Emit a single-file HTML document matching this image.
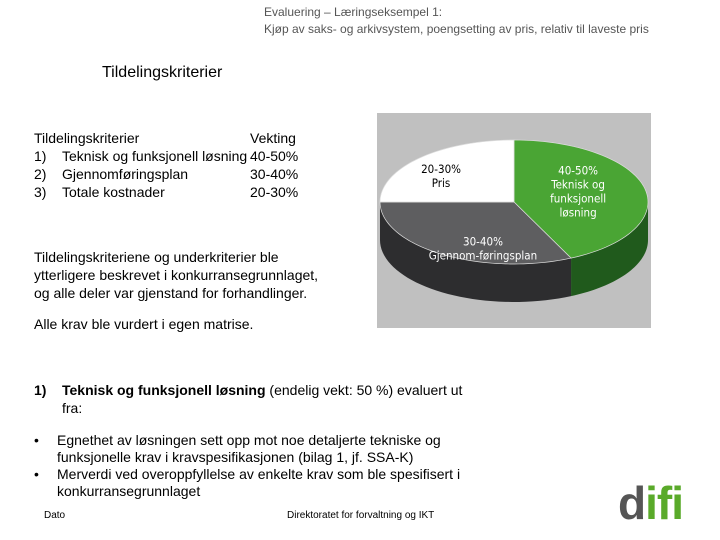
<!DOCTYPE html>
<html><head><meta charset="utf-8"><style>
body{margin:0;width:720px;height:540px;background:#fff;position:relative;overflow:hidden;font-family:"Liberation Sans",sans-serif;color:#000}
.t{position:absolute;white-space:nowrap}
</style></head><body>
<div class="t" style="left:264px;top:4px;font-size:12px;color:#555;line-height:17px">Evaluering – Læringseksempel 1:<br>Kjøp av saks- og arkivsystem, poengsetting av pris, relativ til laveste pris</div>
<div class="t" style="left:102px;top:64px;font-size:16px">Tildelingskriterier</div>
<div class="t" style="left:34px;top:129px;font-size:14px;line-height:18px">
<div style="position:relative;height:18px">Tildelingskriterier<span style="position:absolute;left:216px">Vekting</span></div>
<div style="position:relative;height:18px">1)<span style="position:absolute;left:28px">Teknisk og funksjonell løsning</span><span style="position:absolute;left:216px">40-50%</span></div>
<div style="position:relative;height:18px">2)<span style="position:absolute;left:28px">Gjennomføringsplan</span><span style="position:absolute;left:216px">30-40%</span></div>
<div style="position:relative;height:18px">3)<span style="position:absolute;left:28px">Totale kostnader</span><span style="position:absolute;left:216px">20-30%</span></div>
</div>
<div class="t" style="left:34px;top:248px;font-size:14px;line-height:18px">Tildelingskriteriene og underkriterier ble<br>ytterligere beskrevet i konkurransegrunnlaget,<br>og alle deler var gjenstand for forhandlinger.</div>
<div class="t" style="left:34px;top:316px;font-size:14px">Alle krav ble vurdert i egen matrise.</div>
<div class="t" style="left:34px;top:381px;font-size:14px;line-height:18px"><b>1)</b><span style="position:absolute;left:28px"><b>Teknisk og funksjonell løsning</b> (endelig vekt: 50 %) evaluert ut<br>fra:</span></div>
<div class="t" style="left:34px;top:432px;font-size:14px;line-height:17px">
<div style="position:relative">•<span style="position:absolute;left:23px">Egnethet av løsningen sett opp mot noe detaljerte tekniske og<br>funksjonelle krav i kravspesifikasjonen (bilag 1, jf. SSA-K)</span></div>
<div style="position:relative;margin-top:17px">•<span style="position:absolute;left:23px">Merverdi ved overoppfyllelse av enkelte krav som ble spesifisert i<br>konkurransegrunnlaget</span></div>
</div>
<div class="t" style="left:44px;top:510px;font-size:10px">Dato</div>
<div class="t" style="left:287px;top:510px;font-size:10px">Direktoratet for forvaltning og IKT</div>
<div class="t" style="left:618px;top:478px;font-size:46px;font-weight:bold;color:#5aaa2a;letter-spacing:-1px;line-height:50px"><span style="color:#555">d</span>ifi</div>
<svg width="720" height="540" style="position:absolute;left:0;top:0">
<rect x="377" y="113" width="274" height="215" fill="#c0c0c0"/>
<g id="pie"></g>
</svg>
<script>
const labels=[["40-50%","Teknisk og","funksjonell","løsning"],["30-40%","Gjennom-føringsplan"],["20-30%","Pris"]];
const values=[43,32,25];
const names=['slice-teknisk','slice-gjennomforing','slice-pris'];
const topC=['#4aa534','#5e5e60','#ffffff'],sideC=['#205a1c','#2d2d2f','#cccccc'],txtC=['#fff','#fff','#000'];
const labR=[0.49,0.85,0.77],labDx=[0,30,0],labDy=[-4,2,8];
const cx=514,cy=202,rx=134,ry=62,depth=38;
const g=document.getElementById('pie'),ns='http://www.w3.org/2000/svg';
const tot=values.reduce((a,b)=>a+b,0);
function pt(a,dy){return [cx+rx*Math.sin(a),cy-ry*Math.cos(a)+(dy||0)];}
let a0=0;const sl=[];
values.forEach((v,i)=>{const a1=a0+v/tot*2*Math.PI;sl.push([a0,a1]);a0=a1;});
sl.forEach(([s,e],i)=>{const s2=Math.max(s,Math.PI/2),e2=Math.min(e,3*Math.PI/2);if(e2<=s2)return;
 let d='';const n=40;for(let k=0;k<=n;k++){const p=pt(s2+(e2-s2)*k/n);d+=(k?'L':'M')+p[0]+','+p[1];}
 for(let k=n;k>=0;k--){const p=pt(s2+(e2-s2)*k/n,depth);d+='L'+p[0]+','+p[1];}
 const el=document.createElementNS(ns,'path');el.setAttribute('d',d+'Z');el.setAttribute('fill',sideC[i]);
 
 g.appendChild(el);});
sl.forEach(([s,e],i)=>{let d='M'+cx+','+cy;const n=60;for(let k=0;k<=n;k++){const p=pt(s+(e-s)*k/n);d+='L'+p[0]+','+p[1];}
 const el=document.createElementNS(ns,'path');el.setAttribute('d',d+'Z');el.setAttribute('fill',topC[i]);el.setAttribute('stroke','#ddd');el.setAttribute('stroke-width','0.7');
 
 g.appendChild(el);
 const m=(s+e)/2,f=labR[i],p=[cx+rx*f*Math.sin(m)+labDx[i],cy-ry*f*Math.cos(m)+labDy[i]];
 const L=labels[i];const t=document.createElementNS(ns,'text');t.setAttribute('font-size','11.5');t.setAttribute('fill',txtC[i]);t.setAttribute('text-anchor','middle');
 t.setAttribute('font-family','"DejaVu Sans Condensed","Liberation Sans Narrow",sans-serif');
 
 
 L.forEach((s2,k)=>{const ts=document.createElementNS(ns,'tspan');ts.setAttribute('x',p[0]);ts.setAttribute('y',p[1]-(L.length-1)*7+k*14+4);ts.textContent=s2;t.appendChild(ts);});
 g.appendChild(t);});
</script>
</body></html>
